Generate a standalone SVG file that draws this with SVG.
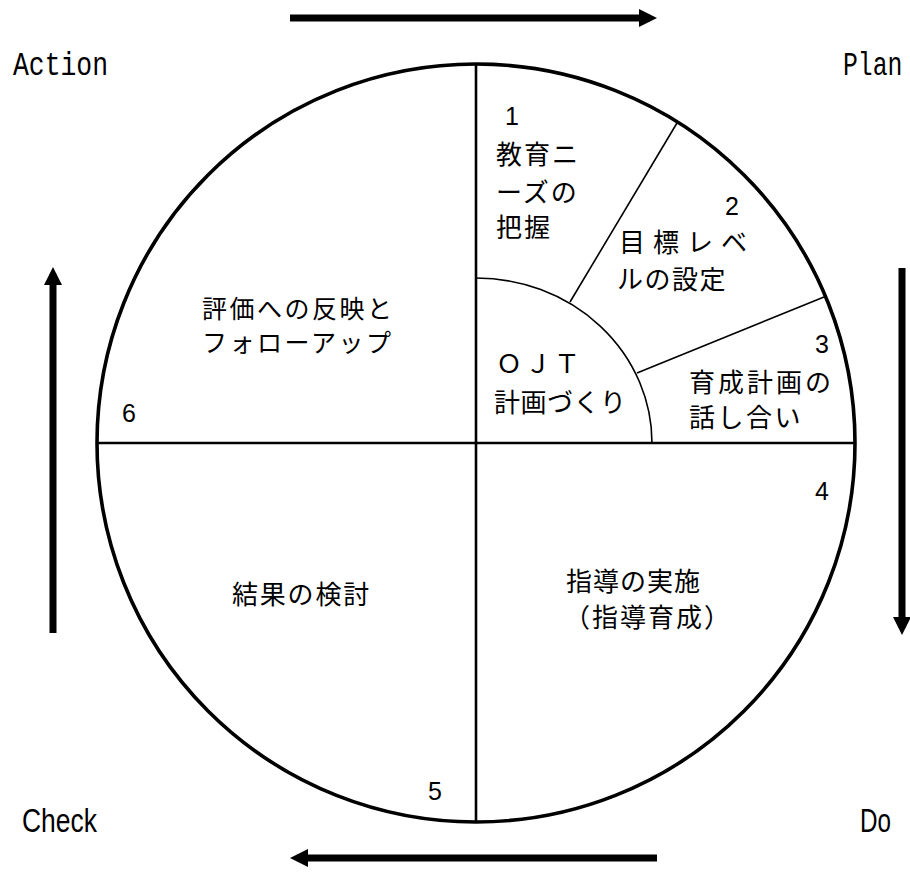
<svg xmlns="http://www.w3.org/2000/svg" width="910" height="878" viewBox="0 0 910 878">
<style>
.jp{font-family:"Noto Sans CJK JP","Noto Sans",sans-serif;font-size:26px;fill:#000}
.jp2{font-family:"Noto Sans CJK JP","Noto Sans",sans-serif;font-size:25px;fill:#000}
.num{font-family:"Liberation Sans",Arial,sans-serif;font-size:25px;fill:#000;text-anchor:middle}
.mono{font-family:"Liberation Mono",monospace;font-size:33px;fill:#000}
.sans{font-family:"Liberation Sans",Arial,sans-serif;font-size:33px;fill:#000}
.thin{stroke:#000;stroke-width:1.6;fill:none}
.mid{stroke:#000;stroke-width:2.6;fill:none}
.arrow{stroke:#000;stroke-width:7;fill:none;marker-end:url(#ah)}
</style>
<defs>
<marker id="ah" viewBox="0 0 18 18" refX="11" refY="9" markerWidth="18" markerHeight="18" markerUnits="userSpaceOnUse" orient="auto">
<path d="M0,0 L18,9 L0,18 z" fill="#000"/>
</marker>
</defs>
<rect width="910" height="878" fill="#fff"/>

<g id="wheel">
<circle cx="476" cy="443" r="379" fill="none" stroke="#000" stroke-width="3.6"/>
<line class="mid" x1="476" y1="64" x2="476" y2="822"/>
<line class="mid" x1="97" y1="443" x2="855" y2="443"/>
</g>

<g id="ojt">
<path class="thin" d="M476,278 A176,165 0 0 1 652,443"/>
<text class="jp" x="496" y="373" letter-spacing="3">ＯＪＴ</text>
<text class="jp" x="494" y="412" letter-spacing="0.5">計画づくり</text>
</g>

<g id="step1">
<text class="num" x="512" y="125">1</text>
<text class="jp" x="496" y="164" letter-spacing="2">教育ニ</text>
<text class="jp" x="496" y="202" letter-spacing="2">ーズの</text>
<text class="jp" x="496" y="237" letter-spacing="2">把握</text>
</g>

<g id="step2">
<line class="thin" x1="570" y1="302" x2="677" y2="123"/>
<text class="num" x="732" y="215">2</text>
<text class="jp" x="619" y="252" letter-spacing="8">目標レベ</text>
<text class="jp" x="617" y="289" letter-spacing="1.5">ルの設定</text>
</g>

<g id="step3">
<line class="thin" x1="637" y1="373" x2="824" y2="297"/>
<text class="num" x="822" y="353">3</text>
<text class="jp" x="689" y="392" letter-spacing="3">育成計画の</text>
<text class="jp" x="689" y="427" letter-spacing="2.5">話し合い</text>
</g>

<g id="step4">
<text class="num" x="822" y="500">4</text>
<text class="jp" x="566" y="591" letter-spacing="1">指導の実施</text>
<text class="jp" x="564" y="627" letter-spacing="2">（指導育成）</text>
</g>

<g id="step5">
<text class="jp" x="232" y="604" letter-spacing="1.8">結果の検討</text>
<text class="num" x="435" y="800">5</text>
</g>

<g id="step6">
<text class="jp2" x="202" y="318" letter-spacing="2.5">評価への反映と</text>
<text class="jp2" x="202" y="352" letter-spacing="2.5">フォローアップ</text>
<text class="num" x="129" y="422">6</text>
</g>

<g id="labels">
<text class="mono" transform="translate(13 75) scale(0.8 1)" x="0" y="0">Action</text>
<text class="mono" transform="translate(843 75) scale(0.75 1)" x="0" y="0">Plan</text>
<text class="sans" x="22" y="832" textLength="75" lengthAdjust="spacingAndGlyphs">Check</text>
<text class="sans" x="860" y="832" textLength="31" lengthAdjust="spacingAndGlyphs">Do</text>
</g>

<g id="connectors">
<line class="arrow" x1="290" y1="18" x2="650" y2="18"/>
<line class="arrow" x1="902" y1="268" x2="902" y2="628"/>
<line class="arrow" x1="657" y1="858" x2="297" y2="858"/>
<line class="arrow" x1="53" y1="633" x2="53" y2="274"/>
</g>
</svg>
